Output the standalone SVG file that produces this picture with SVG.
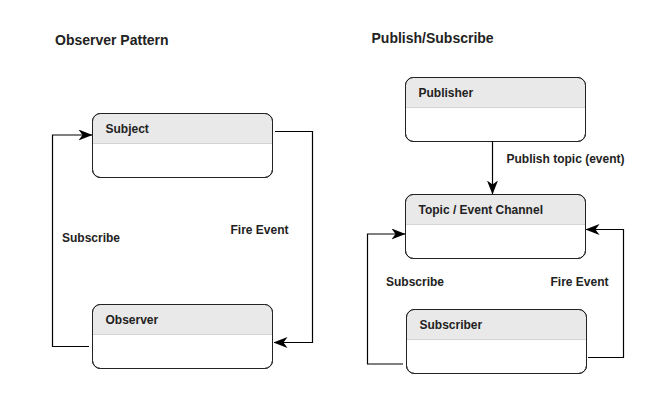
<svg xmlns="http://www.w3.org/2000/svg" width="650" height="409" viewBox="0 0 650 409">
<defs>
<marker id="arr" viewBox="0 0 14 11" refX="13.5" refY="5.5" markerWidth="14" markerHeight="11" markerUnits="userSpaceOnUse" orient="auto">
<path d="M0,0 L14,5.5 L0,11 L4,5.5 Z" fill="#000"/>
</marker>
</defs>
<style>
.t{font-family:"Liberation Sans",Arial,sans-serif;font-weight:bold;fill:#222}
.title{font-size:14px}
.lbl{font-size:12px}
.box{fill:#fff;stroke:#222;stroke-width:1}
.hd{fill:#e9e9e9}
.dv{stroke:#d4d4d4;stroke-width:1}
.ln{fill:none;stroke:#000;stroke-width:1.2}
</style>
<rect width="650" height="409" fill="#fff"/>
<text class="t title" x="55" y="44.5">Observer Pattern</text>
<text class="t title" x="371.5" y="42.5">Publish/Subscribe</text>

<g id="subject" transform="translate(92.5,113.5)">
<rect class="box" width="180" height="64" rx="8"/>
<path class="hd" d="M0.5,30 V8 A7.5,7.5 0 0 1 8,0.5 H172 A7.5,7.5 0 0 1 179.5,8 V30 Z"/>
<line class="dv" x1="0.5" y1="30" x2="179.5" y2="30"/>
<rect width="180" height="64" rx="8" fill="none" stroke="#222"/>
<text class="t lbl" x="13" y="19">Subject</text>
</g>
<g id="observer" transform="translate(92.5,304.5)">
<rect class="box" width="180" height="64" rx="8"/>
<path class="hd" d="M0.5,30 V8 A7.5,7.5 0 0 1 8,0.5 H172 A7.5,7.5 0 0 1 179.5,8 V30 Z"/>
<line class="dv" x1="0.5" y1="30" x2="179.5" y2="30"/>
<rect width="180" height="64" rx="8" fill="none" stroke="#222"/>
<text class="t lbl" x="13" y="19">Observer</text>
</g>
<g id="publisher" transform="translate(405.5,77.5)">
<rect class="box" width="180" height="64" rx="8"/>
<path class="hd" d="M0.5,30 V8 A7.5,7.5 0 0 1 8,0.5 H172 A7.5,7.5 0 0 1 179.5,8 V30 Z"/>
<line class="dv" x1="0.5" y1="30" x2="179.5" y2="30"/>
<rect width="180" height="64" rx="8" fill="none" stroke="#222"/>
<text class="t lbl" x="13" y="19">Publisher</text>
</g>
<g id="topic" transform="translate(405.5,194.5)">
<rect class="box" width="180" height="64" rx="8"/>
<path class="hd" d="M0.5,30 V8 A7.5,7.5 0 0 1 8,0.5 H172 A7.5,7.5 0 0 1 179.5,8 V30 Z"/>
<line class="dv" x1="0.5" y1="30" x2="179.5" y2="30"/>
<rect width="180" height="64" rx="8" fill="none" stroke="#222"/>
<text class="t lbl" x="13" y="19">Topic / Event Channel</text>
</g>
<g id="subscriber" transform="translate(406.5,309.5)">
<rect class="box" width="180" height="64" rx="8"/>
<path class="hd" d="M0.5,30 V8 A7.5,7.5 0 0 1 8,0.5 H172 A7.5,7.5 0 0 1 179.5,8 V30 Z"/>
<line class="dv" x1="0.5" y1="30" x2="179.5" y2="30"/>
<rect width="180" height="64" rx="8" fill="none" stroke="#222"/>
<text class="t lbl" x="13" y="19">Subscriber</text>
</g>

<g id="connectors">
<path class="ln" d="M89,346.5 H52.5 V135 H92" marker-end="url(#arr)"/>
<path class="ln" d="M275,131.5 H312.5 V342.5 H274" marker-end="url(#arr)"/>
<path class="ln" d="M492.5,141.5 V194" marker-end="url(#arr)"/>
<path class="ln" d="M403,364 H367.5 V234 H405" marker-end="url(#arr)"/>
<path class="ln" d="M588,357.5 H623.5 V229.5 H586" marker-end="url(#arr)"/>
<text class="t lbl" x="62" y="242">Subscribe</text>
<text class="t lbl" x="230.5" y="233.5">Fire Event</text>
<text class="t lbl" x="506.5" y="163">Publish topic (event)</text>
<text class="t lbl" x="386" y="285.5">Subscribe</text>
<text class="t lbl" x="550.5" y="285.5">Fire Event</text>
</g>
</svg>
